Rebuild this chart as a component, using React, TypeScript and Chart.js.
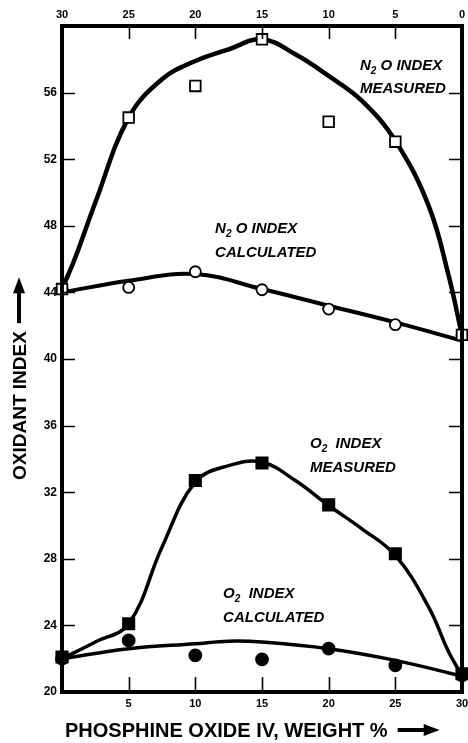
import React, { useEffect, useRef } from 'react';
import { Chart, registerables } from 'chart.js';

Chart.register(...registerables);

// ---- data ----
const POINT_X = [0, 5, 10, 15, 20, 25, 30];
const N2O_MEASURED = [44.2, 54.5, 56.4, 59.2, 54.25, 53.05, 41.45];
const N2O_CALCULATED = [44.2, 44.3, 45.24, 44.16, 43.0, 42.06, 41.45];
const O2_MEASURED = [22.1, 24.1, 32.7, 33.75, 31.24, 28.3, 21.1];
const O2_CALCULATED = [22.0, 23.1, 22.2, 21.96, 22.6, 21.6, 21.0];

// fitted curves (as drawn in the reference)
const N2O_MEAS_CURVE_X = [0, 1, 2.5, 5, 7.5, 10, 12.5, 15, 17.5, 20, 22.5, 25, 27.5, 29, 30];
const N2O_MEAS_CURVE = [44.2, 46.1, 49.4, 54.5, 56.8, 57.9, 58.6, 59.2, 58.3, 57.0, 55.5, 53.1, 49.2, 45.0, 41.4];
const N2O_CALC_CURVE_X = [0, 5, 10, 15, 20, 25, 30];
const N2O_CALC_CURVE = [44.0, 44.7, 45.1, 44.2, 43.2, 42.2, 41.1];
const O2_MEAS_CURVE_X = [0, 2.5, 5, 7.5, 10, 12.5, 15, 17.5, 20, 22.5, 25, 27.5, 29, 30];
const O2_MEAS_CURVE = [22.0, 23.0, 24.1, 28.7, 32.6, 33.6, 33.8, 32.7, 31.2, 29.8, 28.2, 25.1, 22.4, 21.0];
const O2_CALC_CURVE_X = [0, 5, 10, 12.5, 15, 20, 25, 30];
const O2_CALC_CURVE = [22.0, 22.6, 22.9, 23.05, 23.0, 22.6, 21.9, 20.95];

// axis settings
const X_MIN = 0;
const X_MAX = 30;
const X_STEP = 5;
const Y_MIN = 20;
const Y_MAX = 60;
const Y_STEP = 4;

const X_TITLE = 'PHOSPHINE OXIDE IV, WEIGHT %';
const Y_TITLE = 'OXIDANT INDEX';

// in-plot labels ("_2" marks a subscript 2)
const ANNOTATIONS = [
  { lines: ['N_2 O INDEX', 'MEASURED'], x: 22.35, y: [57.38, 55.99] },
  { lines: ['N_2 O INDEX', 'CALCULATED'], x: 11.48, y: [47.58, 46.14] },
  { lines: ['O_2  INDEX', 'MEASURED'], x: 18.6, y: [34.66, 33.22] },
  { lines: ['O_2  INDEX', 'CALCULATED'], x: 12.08, y: [25.65, 24.2] },
];

const FONT = '"Liberation Sans", Arial, Helvetica, sans-serif';

const zip = (xs: number[], ys: number[]) => xs.map((x, i) => ({ x, y: ys[i] }));

function drawRich(ctx: CanvasRenderingContext2D, text: string, x: number, y: number) {
  const parts = text.split(/(_\d)/);
  let cx = x;
  for (const p of parts) {
    if (!p) continue;
    if (p.startsWith('_')) {
      ctx.font = `italic bold 10px ${FONT}`;
      ctx.fillText(p.slice(1), cx, y + 4);
      cx += ctx.measureText(p.slice(1)).width;
    } else {
      ctx.font = `italic bold 15px ${FONT}`;
      ctx.fillText(p, cx, y);
      cx += ctx.measureText(p).width;
    }
  }
}

const framePlugin = {
  id: 'frameAndLabels',
  afterDatasetsDraw(chart: any) {
    const { ctx, chartArea: a, scales } = chart;
    const xs = scales.x;
    const ys = scales.y;
    ctx.save();
    ctx.strokeStyle = '#000';
    ctx.lineWidth = 1.6;
    ctx.beginPath();
    for (const t of ys.ticks) {
      if (t.value <= Y_MIN || t.value >= Y_MAX) continue;
      const py = Math.round(ys.getPixelForValue(t.value)) + 0.5;
      ctx.moveTo(a.left, py);
      ctx.lineTo(a.left + 13, py);
      ctx.moveTo(a.right, py);
      ctx.lineTo(a.right - 13, py);
    }
    for (const t of xs.ticks) {
      if (t.value <= X_MIN || t.value >= X_MAX) continue;
      const px = Math.round(xs.getPixelForValue(t.value)) + 0.5;
      ctx.moveTo(px, a.bottom);
      ctx.lineTo(px, a.bottom - 15);
      ctx.moveTo(px, a.top);
      ctx.lineTo(px, a.top + 13);
    }
    ctx.stroke();
    ctx.lineWidth = 4;
    ctx.strokeRect(a.left, a.top, a.right - a.left, a.bottom - a.top);

    // annotations
    ctx.fillStyle = '#000';
    ctx.textAlign = 'left';
    ctx.textBaseline = 'alphabetic';
    for (const an of ANNOTATIONS) {
      const px = xs.getPixelForValue(an.x);
      an.lines.forEach((ln, i) => {
        drawRich(ctx, ln, px, ys.getPixelForValue(an.y[i]));
      });
    }
    ctx.restore();
  },
  afterDraw(chart: any) {
    const { ctx } = chart;
    ctx.save();
    ctx.fillStyle = '#000';
    ctx.strokeStyle = '#000';
    // x title
    ctx.font = `bold 20px ${FONT}`;
    ctx.textAlign = 'left';
    ctx.textBaseline = 'alphabetic';
    ctx.fillText(X_TITLE, 65, 737);
    const xw = ctx.measureText(X_TITLE).width;
    const ax0 = 65 + xw + 10;
    const ay = 730;
    ctx.lineWidth = 4;
    ctx.beginPath();
    ctx.moveTo(ax0, ay);
    ctx.lineTo(ax0 + 30, ay);
    ctx.stroke();
    ctx.beginPath();
    ctx.moveTo(ax0 + 42, ay);
    ctx.lineTo(ax0 + 26, ay - 6);
    ctx.lineTo(ax0 + 26, ay + 6);
    ctx.closePath();
    ctx.fill();

    // y title
    ctx.translate(26, 480);
    ctx.rotate(-Math.PI / 2);
    ctx.font = `bold 19px ${FONT}`;
    ctx.fillText(Y_TITLE, 0, 0);
    const yw = ctx.measureText(Y_TITLE).width;
    const bx = yw + 8;
    ctx.beginPath();
    ctx.moveTo(bx, -7);
    ctx.lineTo(bx + 34, -7);
    ctx.stroke();
    ctx.beginPath();
    ctx.moveTo(bx + 46, -7);
    ctx.lineTo(bx + 30, -13);
    ctx.lineTo(bx + 30, -1);
    ctx.closePath();
    ctx.fill();
    ctx.restore();
  },
};

export default function App() {
  const ref = useRef<HTMLCanvasElement>(null);
  useEffect(() => {
    document.body.style.margin = '0';
    const tickFont = { family: FONT, size: 11, weight: 'bold' as const };
    const curve = (xs: number[], ys: number[], w: number) => ({
      data: zip(xs, ys),
      borderColor: '#000',
      borderWidth: w,
      pointRadius: 0,
      fill: false,
      tension: 0.4,
      order: 2,
    });
    const pts = (ys: number[], style: string, r: number, bg: string) => ({
      data: zip(POINT_X, ys),
      showLine: false,
      pointStyle: style,
      pointRadius: r,
      pointBackgroundColor: bg,
      pointBorderColor: '#000',
      pointBorderWidth: 1.8,
      borderColor: '#000',
      backgroundColor: bg,
      clip: false,
      order: 1,
    });
    const fixH = (h: number) => (s: any) => {
      s.height = h;
      s.paddingLeft = 0;
      s.paddingRight = 0;
    };
    const chart = new Chart(ref.current as HTMLCanvasElement, {
      type: 'line',
      data: {
        datasets: [
          curve(N2O_MEAS_CURVE_X, N2O_MEAS_CURVE, 4.5),
          curve(N2O_CALC_CURVE_X, N2O_CALC_CURVE, 4),
          curve(O2_MEAS_CURVE_X, O2_MEAS_CURVE, 3.5),
          curve(O2_CALC_CURVE_X, O2_CALC_CURVE, 3.5),
          pts(N2O_MEASURED, 'rect', 7.5, '#fff'),
          pts(N2O_CALCULATED, 'circle', 5.5, '#fff'),
          pts(O2_MEASURED, 'rect', 8, '#000'),
          pts(O2_CALCULATED, 'circle', 6, '#000'),
        ] as any,
      },
      options: {
        responsive: false,
        animation: false,
        devicePixelRatio: 1,
        layout: { autoPadding: false, padding: { right: 6, left: 0, top: 0, bottom: 0 } },
        plugins: { legend: { display: false }, tooltip: { enabled: false } },
        scales: {
          x: {
            type: 'linear',
            position: 'bottom',
            min: X_MIN,
            max: X_MAX,
            grid: { display: false, drawTicks: false },
            border: { display: false },
            ticks: {
              stepSize: X_STEP,
              autoSkip: false,
              maxRotation: 0,
              padding: 5,
              color: '#000',
              font: tickFont,
              callback: (v: any) => (v === X_MIN ? '' : String(v)),
            },
            afterFit: fixH(51),
          },
          x2: {
            type: 'linear',
            position: 'top',
            min: X_MIN,
            max: X_MAX,
            reverse: true,
            grid: { display: false, drawTicks: false },
            border: { display: false },
            ticks: {
              stepSize: X_STEP,
              autoSkip: false,
              maxRotation: 0,
              padding: 4,
              color: '#000',
              font: tickFont,
              callback: (v: any) => String(v),
            },
            afterFit: fixH(26),
          },
          y: {
            type: 'linear',
            position: 'left',
            min: Y_MIN,
            max: Y_MAX,
            grid: { display: false, drawTicks: false },
            border: { display: false },
            ticks: {
              stepSize: Y_STEP,
              autoSkip: false,
              padding: 5,
              color: '#000',
              font: { ...tickFont, size: 12 },
              callback: (v: any) => (v === Y_MAX ? '' : String(v)),
            },
            afterFit: (s: any) => {
              s.width = 62;
              s.paddingTop = 0;
              s.paddingBottom = 0;
            },
          },
        },
      } as any,
      plugins: [framePlugin],
    });
    return () => chart.destroy();
  }, []);
  return (
    <div style={{ width: 468, height: 743 }}>
      <canvas ref={ref} width={468} height={743} style={{ display: 'block' }} />
    </div>
  );
}
